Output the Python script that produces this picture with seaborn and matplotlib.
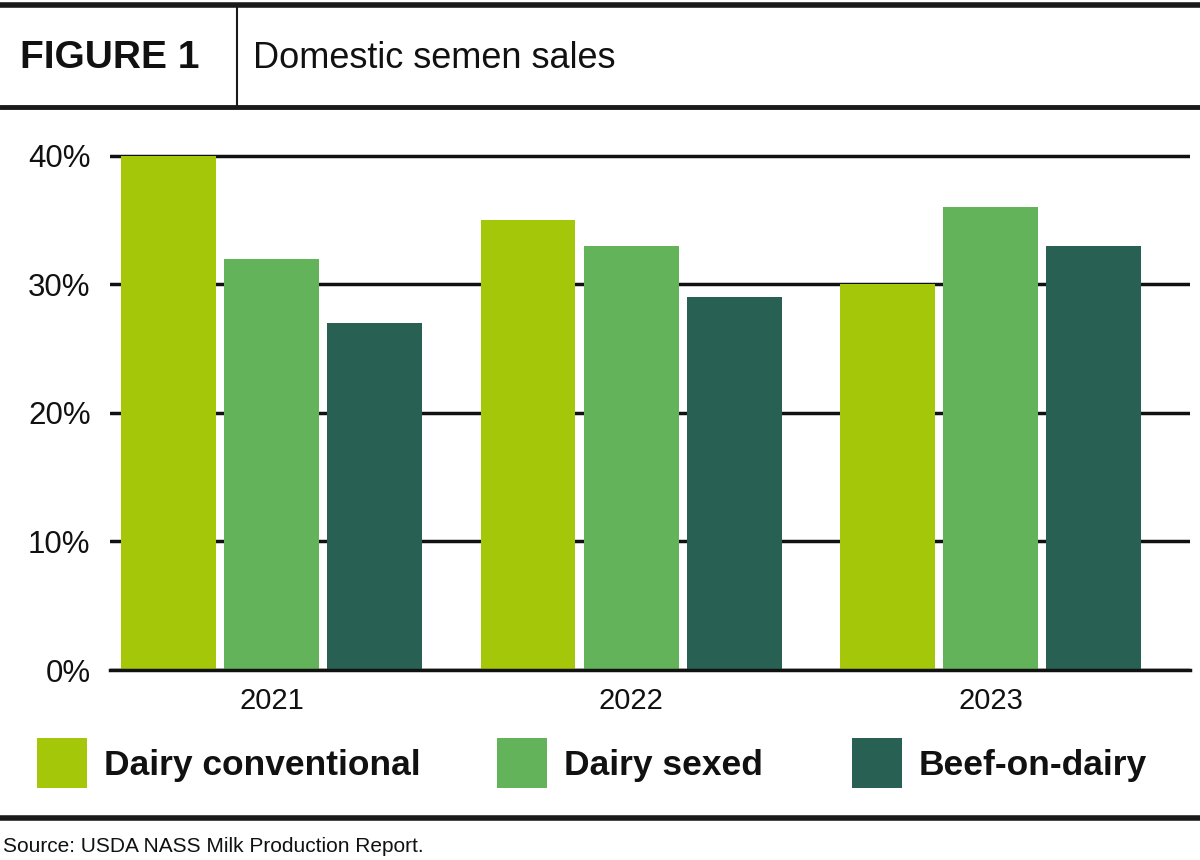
import pandas as pd
import matplotlib
matplotlib.use("Agg")
import matplotlib.pyplot as plt
from matplotlib.patches import Rectangle
from matplotlib.lines import Line2D
import seaborn as sns

# data
years = ["2021", "2022", "2023"]
dairy_conventional = [40, 35, 30]
dairy_sexed = [32, 33, 36]
beef_on_dairy = [27, 29, 33]
series_names = ["Dairy conventional", "Dairy sexed", "Beef-on-dairy"]
colors = ["#a4c70a", "#63b35b", "#286154"]
y_ticks = [0, 10, 20, 30, 40]
y_labels = ["0%", "10%", "20%", "30%", "40%"]

rows = []
for name, vals in zip(series_names, [dairy_conventional, dairy_sexed, beef_on_dairy]):
    for yr, v in zip(years, vals):
        rows.append({"year": yr, "share": v, "type": name})
df = pd.DataFrame(rows)

sns.set_theme(style="white")
plt.rcParams["font.family"] = ["Liberation Sans", "DejaVu Sans"]

fig = plt.figure(figsize=(12, 8.6), dpi=100)
ax = fig.add_axes([110 / 1200, 1 - 670 / 860, 1080 / 1200, (670 - 152) / 860])

sns.barplot(data=df, x="year", y="share", hue="type", hue_order=series_names,
            palette=colors, width=0.86, gap=0.08, legend=False, ax=ax,
            saturation=1, edgecolor="none")

ax.set_xlim(-0.45, 2.555)
ax.set_ylim(0, 40.3)
ax.set_yticks(y_ticks)
ax.set_yticklabels(y_labels)
ax.set_axisbelow(True)
ax.yaxis.grid(True, color="#111111", linewidth=2.5)
for s in ["left", "right", "top"]:
    ax.spines[s].set_visible(False)
ax.spines["bottom"].set_color("#111111")
ax.spines["bottom"].set_linewidth(2.5)
ax.tick_params(axis="y", length=0, pad=14, labelsize=22.5, labelcolor="#111111")
ax.tick_params(axis="x", length=0, pad=12, labelsize=21, labelcolor="#111111")
ax.set_xlabel("")
ax.set_ylabel("")

# header box
def hline(y, lw):
    fig.add_artist(Line2D([0, 1], [1 - y / 860, 1 - y / 860], color="#1a1a1a", linewidth=lw,
                          transform=fig.transFigure))

hline(5, 4)
hline(107, 3.5)
hline(818, 4)
fig.add_artist(Line2D([237 / 1200, 237 / 1200], [1 - 107 / 860, 1 - 5 / 860], color="#1a1a1a",
                      linewidth=1.5, transform=fig.transFigure))

fig.text(20 / 1200, 1 - 58 / 860, "FIGURE 1", fontsize=28, fontweight="bold",
         va="center", ha="left", color="#111111")
fig.text(253 / 1200, 1 - 58 / 860, "Domestic semen sales", fontsize=26,
         va="center", ha="left", color="#111111")

# legend
legend_x = [37, 497, 852]
for x, name, c in zip(legend_x, series_names, colors):
    fig.add_artist(Rectangle((x / 1200, 1 - 788 / 860), 50 / 1200, 50 / 860,
                             transform=fig.transFigure, facecolor=c, edgecolor="none"))
    fig.text((x + 67) / 1200, 1 - 765 / 860, name, fontsize=25.5, fontweight="bold",
             va="center", ha="left", color="#111111")

fig.text(3 / 1200, 1 - 846 / 860, "Source: USDA NASS Milk Production Report.", fontsize=15,
         va="center", ha="left", color="#111111")

fig.savefig("out.png", dpi=100)
